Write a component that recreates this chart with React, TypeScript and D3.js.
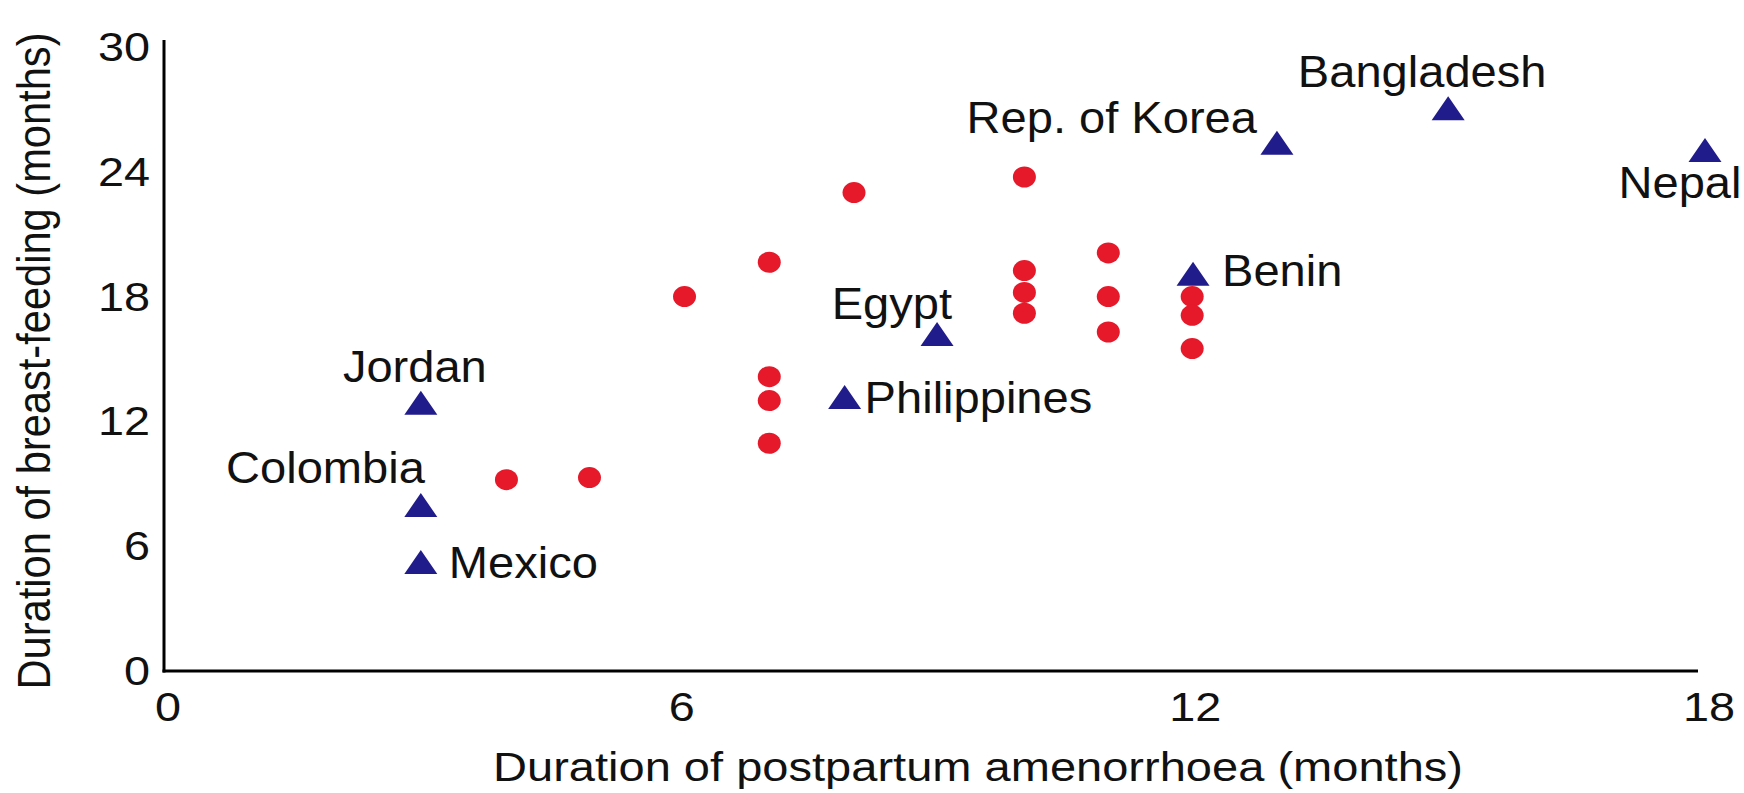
import React from "react";
import * as d3 from "d3";

// ---- data ----
const xTicks = [0, 6, 12, 18];
const yTicks = [0, 6, 12, 18, 24, 30];

// unlabelled countries (red circles)
const otherX = [4.0, 4.97, 6.08, 7.07, 7.07, 7.07, 7.07, 8.06, 10.05, 10.05, 10.05, 10.05, 11.03, 11.03, 11.03, 12.01, 12.01, 12.01];
const otherY = [9.2, 9.3, 18.0, 19.65, 14.15, 13.0, 10.95, 23.0, 23.75, 19.25, 18.2, 17.2, 20.1, 18.0, 16.3, 18.0, 17.1, 15.5];

// labelled countries (blue triangles)
const countries = ["Jordan", "Colombia", "Mexico", "Philippines", "Egypt", "Benin", "Rep. of Korea", "Bangladesh", "Nepal"];
const countryX = [3, 3, 3, 7.95, 9.03, 12.02, 13, 15, 18];
const countryY = [12.9, 7.98, 5.24, 13.17, 16.2, 19.1, 25.4, 27.05, 25.05];

const xTitle = "Duration of postpartum amenorrhoea (months)";
const yTitle = "Duration of breast-feeding (months)";

// label placement (offsets from the marker, in px)
const labelPlacement: Record<string, { dx: number; dy: number; anchor: string }> = {
  Jordan: { dx: -6, dy: -21, anchor: "middle" },
  Colombia: { dx: 4, dy: -22, anchor: "end" },
  Mexico: { dx: 28, dy: 16, anchor: "start" },
  Philippines: { dx: 20, dy: 16, anchor: "start" },
  Egypt: { dx: 15, dy: -15, anchor: "end" },
  Benin: { dx: 29, dy: 12, anchor: "start" },
  "Rep. of Korea": { dx: -20, dy: -10, anchor: "end" },
  Bangladesh: { dx: -26, dy: -21, anchor: "middle" },
  Nepal: { dx: -25, dy: 48, anchor: "middle" },
};

const W = 1744;
const H = 793;
const RED = "#e5192a";
const BLUE = "#211c8c";
const FONT = "'Liberation Sans', Arial, Helvetica, sans-serif";

export default function App() {
  const x = d3.scaleLinear().domain([0, 18]).range([164, 1705]);
  const y = d3.scaleLinear().domain([0, 30]).range([671, 47]);

  const circles = otherX.map((v, i) => ({ x: x(v), y: y(otherY[i]) }));
  const tris = countries.map((c, i) => ({ name: c, x: x(countryX[i]), y: y(countryY[i]) }));

  const triPath = (cx: number, cy: number) =>
    `M${cx},${cy - 12}L${cx + 16.5},${cy + 12}L${cx - 16.5},${cy + 12}Z`;

  return (
    <svg
      width={W}
      height={H}
      style={{ position: "absolute", left: 0, top: 0, background: "#fff" }}
      fontFamily={FONT}
    >
      <rect width={W} height={H} fill="#fff" />
      {/* axes */}
      <line x1={x(0)} x2={x(0)} y1={40} y2={y(0) + 1.5} stroke="#000" strokeWidth={3} />
      <line x1={x(0) - 1.5} x2={1698} y1={y(0)} y2={y(0)} stroke="#000" strokeWidth={3} />

      {/* y tick labels */}
      {yTicks.map((t) => (
        <text
          key={"y" + t}
          transform={`translate(150,${y(t) + 14}) scale(1.17,1)`}
          textAnchor="end"
          fontSize={40}
          fill="#111"
        >
          {t}
        </text>
      ))}
      {/* x tick labels */}
      {xTicks.map((t) => (
        <text
          key={"x" + t}
          transform={`translate(${x(t) + 4},721) scale(1.17,1)`}
          textAnchor="middle"
          fontSize={40}
          fill="#111"
        >
          {t}
        </text>
      ))}

      {/* axis titles */}
      <text
        x={978}
        y={781}
        textAnchor="middle"
        fontSize={40}
        textLength={970}
        lengthAdjust="spacingAndGlyphs"
        fill="#111"
      >
        {xTitle}
      </text>
      <g transform="translate(50,361) scale(1.17,1) rotate(-90)">
        <text
          x={0}
          y={0}
          textAnchor="middle"
          fontSize={40}
          textLength={657}
          lengthAdjust="spacingAndGlyphs"
          fill="#111"
        >
          {yTitle}
        </text>
      </g>

      {/* red circles */}
      {circles.map((c, i) => (
        <ellipse key={"c" + i} cx={c.x} cy={c.y} rx={11.5} ry={10.5} fill={RED} />
      ))}

      {/* blue triangles */}
      {tris.map((t) => (
        <path key={"t" + t.name} d={triPath(t.x, t.y)} fill={BLUE} />
      ))}

      {/* labels */}
      {tris.map((t) => {
        const p = labelPlacement[t.name];
        return (
          <text
            key={"l" + t.name}
            transform={`translate(${t.x + p.dx},${t.y + p.dy}) scale(1.07,1)`}
            textAnchor={p.anchor}
            fontSize={44}
            fill="#111"
          >
            {t.name}
          </text>
        );
      })}
    </svg>
  );
}
